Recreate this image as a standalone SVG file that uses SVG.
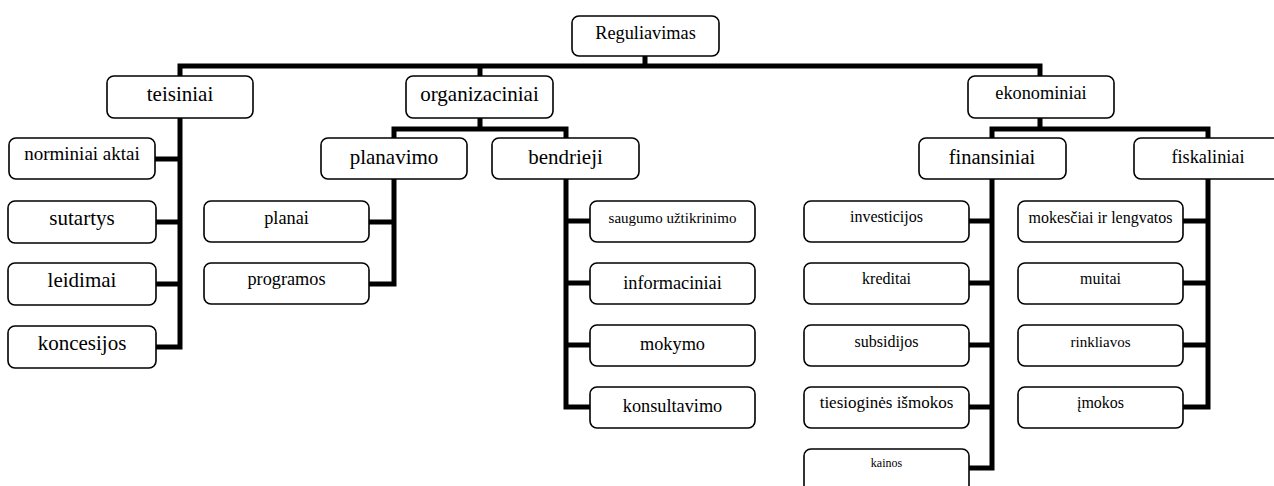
<svg xmlns="http://www.w3.org/2000/svg" width="1274" height="486" viewBox="0 0 1274 486" font-family="'Liberation Serif', 'Times New Roman', serif">
<style>
.bg{fill:#ffffff}
.box{fill:#ffffff;stroke:#000000;stroke-width:1.6}
.con{fill:none;stroke:#000000;stroke-width:5;stroke-linecap:square;stroke-linejoin:miter}
.t{font-family:'Liberation Serif','Times New Roman',serif;fill:#000000;text-anchor:middle}
.f21{font-size:21px}
.f20{font-size:20.5px}
.f19{font-size:19px}
.f18{font-size:18.3px}
.f17{font-size:17px}
.f16{font-size:16px}
.f15{font-size:15px}
.f12{font-size:12px}
</style>
<rect class="bg" x="0" y="0" width="1274" height="486"/>
<g id="connectors">
<path class="con" d="M645,56 V66 M180,76 V66 H1040 V76 M480,66 V76"/>
<path class="con" d="M480,118 V129 M394,138 V129 H566 V138"/>
<path class="con" d="M1040,118 V129 M992,138 V129 H1208 V138"/>
<path class="con" d="M180,118 V347 M155,159 H180 M156,222 H180 M156,284 H180 M156,347 H180"/>
<path class="con" d="M394,179 V284 M369,222 H394 M369,284 H394"/>
<path class="con" d="M566,179 V407 M590,221 H566 M590,283 H566 M590,345 H566 M590,407 H566"/>
<path class="con" d="M992,179 V468 M969,221 H992 M969,283 H992 M969,345 H992 M969,407 H992 M969,468 H992"/>
<path class="con" d="M1208,179 V407 M1183,221 H1208 M1183,283 H1208 M1183,345 H1208 M1183,407 H1208"/>
</g>
<g id="reguliavimas"><rect class="box" x="572" y="16" width="147" height="40" rx="7"/><text class="t f18" x="645.5" y="39">Reguliavimas</text></g>
<g id="teisiniai"><rect class="box" x="107" y="76" width="146" height="42" rx="7"/><text class="t f21" x="180" y="101">teisiniai</text></g>
<g id="organizaciniai"><rect class="box" x="406" y="76" width="147" height="42" rx="7"/><text class="t f21" x="479.5" y="101">organizaciniai</text></g>
<g id="ekonominiai"><rect class="box" x="968" y="76" width="146" height="42" rx="7"/><text class="t f18" x="1041" y="99">ekonominiai</text></g>
<g id="norminiai-aktai"><rect class="box" x="9" y="138" width="146" height="41" rx="7"/><text class="t f19" x="82" y="160">norminiai aktai</text></g>
<g id="sutartys"><rect class="box" x="8" y="201" width="148" height="42" rx="7"/><text class="t f21" x="82" y="225">sutartys</text></g>
<g id="leidimai"><rect class="box" x="8" y="263" width="148" height="42" rx="7"/><text class="t f21" x="82" y="287">leidimai</text></g>
<g id="koncesijos"><rect class="box" x="8" y="326" width="148" height="42" rx="7"/><text class="t f21" x="82" y="350">koncesijos</text></g>
<g id="planavimo"><rect class="box" x="321" y="138" width="146" height="41" rx="7"/><text class="t f21" x="394" y="164">planavimo</text></g>
<g id="bendrieji"><rect class="box" x="492" y="138" width="147" height="41" rx="7"/><text class="t f21" x="565.5" y="164">bendrieji</text></g>
<g id="planai"><rect class="box" x="204" y="201" width="165" height="41" rx="7"/><text class="t f18" x="286.5" y="224">planai</text></g>
<g id="programos"><rect class="box" x="204" y="263" width="165" height="41" rx="7"/><text class="t f18" x="286.5" y="285">programos</text></g>
<g id="saugumo"><rect class="box" x="590" y="201" width="165" height="41" rx="7"/><text class="t f15" x="672.5" y="223">saugumo užtikrinimo</text></g>
<g id="informaciniai"><rect class="box" x="590" y="263" width="165" height="41" rx="7"/><text class="t f18" x="672.5" y="289">informaciniai</text></g>
<g id="mokymo"><rect class="box" x="590" y="325" width="165" height="41" rx="7"/><text class="t f18" x="672.5" y="350">mokymo</text></g>
<g id="konsultavimo"><rect class="box" x="590" y="387" width="165" height="41" rx="7"/><text class="t f18" x="672.5" y="412">konsultavimo</text></g>
<g id="finansiniai"><rect class="box" x="919" y="138" width="147" height="41" rx="7"/><text class="t f20" x="992" y="164">finansiniai</text></g>
<g id="fiskaliniai"><rect class="box" x="1134" y="138" width="148" height="41" rx="7"/><text class="t f18" x="1208" y="163">fiskaliniai</text></g>
<g id="investicijos"><rect class="box" x="804" y="201" width="165" height="41" rx="7"/><text class="t f16" x="886.5" y="222">investicijos</text></g>
<g id="kreditai"><rect class="box" x="804" y="263" width="165" height="41" rx="7"/><text class="t f16" x="886.5" y="284">kreditai</text></g>
<g id="subsidijos"><rect class="box" x="804" y="325" width="165" height="41" rx="7"/><text class="t f16" x="886.5" y="347">subsidijos</text></g>
<g id="tiesiogines"><rect class="box" x="804" y="387" width="165" height="41" rx="7"/><text class="t f17" x="886.5" y="408">tiesioginės išmokos</text></g>
<g id="kainos"><rect class="box" x="804" y="449" width="165" height="46" rx="7"/><text class="t f12" x="886.5" y="467">kainos</text></g>
<g id="mokesciai"><rect class="box" x="1018" y="201" width="165" height="41" rx="7"/><text class="t f16" x="1100.5" y="223">mokesčiai ir lengvatos</text></g>
<g id="muitai"><rect class="box" x="1018" y="263" width="165" height="41" rx="7"/><text class="t f16" x="1100.5" y="284">muitai</text></g>
<g id="rinkliavos"><rect class="box" x="1018" y="325" width="165" height="41" rx="7"/><text class="t f15" x="1100.5" y="347">rinkliavos</text></g>
<g id="imokos"><rect class="box" x="1018" y="387" width="165" height="41" rx="7"/><text class="t f16" x="1100.5" y="408">įmokos</text></g>
</svg>
